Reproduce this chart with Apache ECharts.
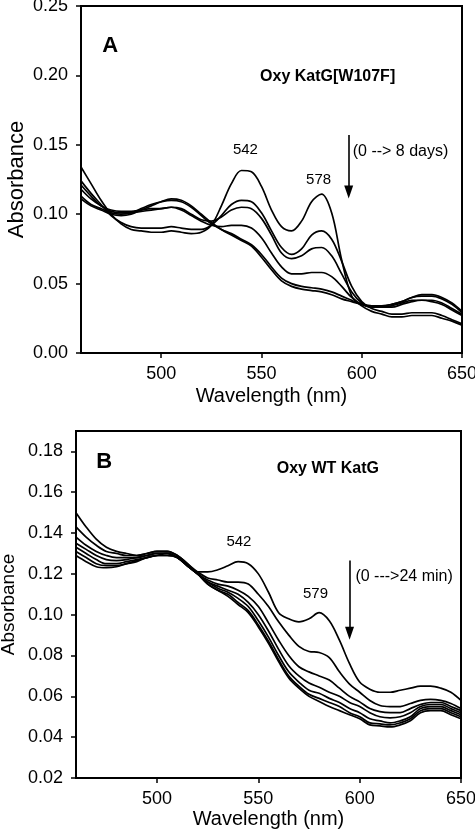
<!DOCTYPE html>
<html>
<head>
<meta charset="utf-8">
<script src="https://cdn.jsdelivr.net/npm/echarts@6/dist/echarts.min.js"></script>
<style>
html,body{margin:0;padding:0;background:#fff;}
#c{width:475px;height:830px;}
</style>
</head>
<body>
<div id="c"></div>
<script>
// Wavelengths (nm), shared by both panels
const wavelengths = [460,465,470,475,480,485,490,495,500,505,510,515,520,525,530,535,540,545,550,555,560,565,570,575,580,585,590,595,600,605,610,615,620,625,630,635,640,645,650];

// Panel A: Oxy KatG[W107F], 0 -> 8 days
const a1 = [.134,.122,.110,.100,.093,.089,.088,.087,.087,.088,.087,.086,.087,.092,.106,.122,.1315,.1305,.120,.103,.091,.088,.095,.109,.1145,.101,.067,.041,.034,.030,.028,.026,.026,.027,.027,.027,.025,.023,.020];
const a2 = [.124,.115,.107,.099,.094,.091,.090,.090,.090,.091,.090,.089,.089,.092,.099,.107,.110,.109,.101,.088,.076,.071,.075,.085,.088,.082,.066,.048,.037,.032,.030,.028,.028,.029,.029,.029,.027,.024,.021];
const a3 = [.121,.113,.106,.102,.101,.101,.102,.103,.104,.105,.104,.100,.096,.095,.098,.103,.105,.104,.097,.085,.072,.068,.070,.075,.076,.070,.057,.044,.036,.033,.033,.033,.035,.037,.038,.037,.035,.031,.027];
const a4 = [.118,.111,.106,.103,.102,.102,.103,.104,.104,.105,.103,.099,.095,.092,.091,.092,.092,.090,.083,.072,.062,.057,.057,.058,.058,.055,.048,.040,.035,.033,.033,.034,.036,.038,.038,.038,.036,.032,.028];
const a5 = [.113,.107,.104,.101,.100,.101,.104,.107,.109,.110,.109,.105,.099,.093,.089,.086,.082,.078,.071,.062,.054,.050,.048,.047,.046,.044,.041,.038,.035,.034,.034,.035,.037,.040,.041,.041,.039,.035,.029];
const a6 = [.111,.106,.103,.100,.099,.100,.103,.106,.109,.111,.110,.106,.100,.094,.089,.085,.081,.077,.069,.060,.052,.048,.046,.045,.044,.042,.039,.037,.035,.034,.034,.035,.037,.040,.042,.042,.040,.036,.030];
const seriesA = [a1,a2,a3,a4,a5,a6];

// Panel B: Oxy WT KatG, 0 -> 24 min
const b1 = [.150,.143,.137,.133,.131,.130,.129,.130,.131,.131,.129,.125,.121,.121,.122,.124,.126,.125,.120,.111,.101,.098,.0965,.098,.101,.097,.0875,.076,.067,.0635,.062,.062,.063,.064,.065,.065,.064,.062,.058];
const b2 = [.143,.138,.134,.131,.130,.129,.129,.130,.131,.131,.129,.125,.121,.118,.117,.116,.116,.115,.110,.104,.0965,.090,.0845,.082,.0815,.079,.072,.066,.062,.058,.0555,.055,.055,.0565,.058,.0585,.058,.0565,.054];
const b3 = [.138,.134,.131,.129,.128,.128,.128,.129,.130,.130,.128,.124,.120,.117,.115,.114,.112,.109,.104,.096,.0875,.080,.0745,.072,.070,.068,.064,.060,.0573,.054,.0525,.052,.052,.054,.056,.057,.057,.055,.053];
const b4 = [.135,.132,.129,.127,.1265,.127,.128,.129,.130,.130,.128,.124,.120,.116,.114,.112,.110,.106,.100,.092,.083,.075,.070,.0665,.0645,.062,.060,.057,.055,.052,.050,.0495,.050,.052,.055,.056,.056,.054,.052];
const b5 = [.133,.130,.127,.125,.125,.126,.127,.128,.129,.130,.128,.124,.120,.116,.113,.111,.108,.104,.097,.089,.080,.072,.067,.063,.0615,.059,.057,.054,.052,.049,.048,.047,.048,.050,.054,.055,.055,.053,.051];
const b6 = [.131,.128,.125,.124,.124,.125,.126,.128,.129,.129,.128,.124,.120,.115,.112,.110,.106,.102,.095,.087,.078,.070,.065,.061,.059,.057,.055,.052,.050,.047,.0465,.046,.047,.049,.053,.054,.054,.052,.050];
const b7 = [.129,.126,.1235,.123,.1235,.125,.1265,.128,.129,.129,.128,.124,.120,.115,.112,.109,.105,.101,.094,.086,.077,.069,.064,.060,.0575,.055,.053,.051,.049,.046,.0455,.045,.046,.048,.052,.053,.053,.051,.049];
const seriesB = [b1,b2,b3,b4,b5,b6,b7];

// Annotations: [text, wavelength, absorbance]
const annotA = [["542",542,0.146],["578",578.5,0.1246]];
const annotB = [["542",540.4,0.1359],["579",578.2,0.110]];
const arrowA = [[593.5,0.157],[593.5,0.116]];
const arrowB = [[595,0.1266],[595,0.0909]];

const FONT = "Liberation Sans, Arial, sans-serif";
const chart = echarts.init(document.getElementById('c'), null, {renderer:'canvas'});

function xAxisCfg(gridIndex){
  return {
    gridIndex, type:'value', min:460, max:650, minInterval:50, maxInterval:50, splitNumber:4,
    name:'Wavelength (nm)', nameLocation:'middle', nameGap: gridIndex===0?33:31, nameMoveOverlap:false,
    nameTextStyle:{fontFamily:FONT,fontSize:20,color:'#000'},
    axisLine:{show:true,onZero:false,lineStyle:{color:'#000',width:2}},
    axisTick:{show:true,length:5,lineStyle:{color:'#000',width:1.5}},
    axisLabel:{showMinLabel:false,showMaxLabel:true,margin:12,fontFamily:FONT,fontSize:18,color:'#000'},
    splitLine:{show:false}
  };
}
function yAxisCfg(gridIndex,min,max,interval,nameGap,nameSize){
  return {
    gridIndex, type:'value', min, max, interval,
    name:'Absorbance', nameLocation:'middle', nameGap, nameMoveOverlap:false,
    nameTextStyle:{fontFamily:FONT,fontSize:nameSize,color:'#000'},
    axisLine:{show:true,onZero:false,lineStyle:{color:'#000',width:2}},
    axisTick:{show:true,length:5,lineStyle:{color:'#000',width:1.5}},
    axisLabel:{showMaxLabel: gridIndex===0, margin:13,fontFamily:FONT,fontSize:18,color:'#000',
      formatter:v=>v.toFixed(2)},
    splitLine:{show:false}
  };
}
function lineSeries(arr, idx, axisIdx){
  return {
    type:'line', xAxisIndex:axisIdx, yAxisIndex:axisIdx,
    data: wavelengths.map((w,i)=>[w,arr[i]]),
    showSymbol:false, smooth:0.35, silent:true,
    lineStyle:{color:'#000',width:1.7}, z:3
  };
}
function markers(annot, extra){
  return annot.map(a=>({coord:[a[1],a[2]],symbolSize:0,
    label:{show:true,position:'inside',formatter:a[0],fontFamily:FONT,fontSize:15,color:'#000'}})).concat(extra);
}
function txt(text,coord,size,bold,pos){
  return {coord,symbolSize:0,label:{show:true,position:pos||'inside',distance:0,formatter:text,
    fontFamily:FONT,fontSize:size,fontWeight:bold?'bold':'normal',color:'#000'}};
}

const series = [];
seriesA.forEach((s,i)=>series.push(lineSeries(s,i,0)));
seriesB.forEach((s,i)=>series.push(lineSeries(s,i,1)));

series[0].markPoint = {symbol:'circle',silent:true,animation:false,data: markers(annotA,[
  txt('A',[474.5,0.221],22,true),
  txt('Oxy KatG[W107F]',[583,0.199],16,true),
  txt('(0 --> 8 days)',[595.5,0.145],16,false,'right')
])};
series[0].markLine = {silent:true,animation:false,symbol:['none','triangle'],symbolSize:[9,13],
  lineStyle:{color:'#000',width:1.6,type:'solid'},label:{show:false},
  data:[[{coord:arrowA[0]},{coord:arrowA[1]}]]};

series[6].markPoint = {symbol:'circle',silent:true,animation:false,data: markers(annotB,[
  txt('B',[473.9,0.1746],22,true),
  txt('Oxy WT KatG',[584.3,0.1717],16,true),
  txt('(0 --->24 min)',[597.9,0.1188],16,false,'right')
])};
series[6].markLine = {silent:true,animation:false,symbol:['none','triangle'],symbolSize:[9,13],
  lineStyle:{color:'#000',width:1.6,type:'solid'},label:{show:false},
  data:[[{coord:arrowB[0]},{coord:arrowB[1]}]]};

chart.setOption({
  animation:false,
  backgroundColor:'#fff',
  grid:[
    {left:81,top:6,width:381,height:347,show:true,borderColor:'#000',borderWidth:2,backgroundColor:'transparent',outerBoundsMode:'none',containLabel:false},
    {left:76,top:431,width:385,height:347,show:true,borderColor:'#000',borderWidth:2,backgroundColor:'transparent',outerBoundsMode:'none',containLabel:false}
  ],
  xAxis:[xAxisCfg(0),xAxisCfg(1)],
  yAxis:[yAxisCfg(0,0,0.25,0.05,53,22),yAxisCfg(1,0.02,0.19,0.02,58,19)],
  series
});
</script>
</body>
</html>
